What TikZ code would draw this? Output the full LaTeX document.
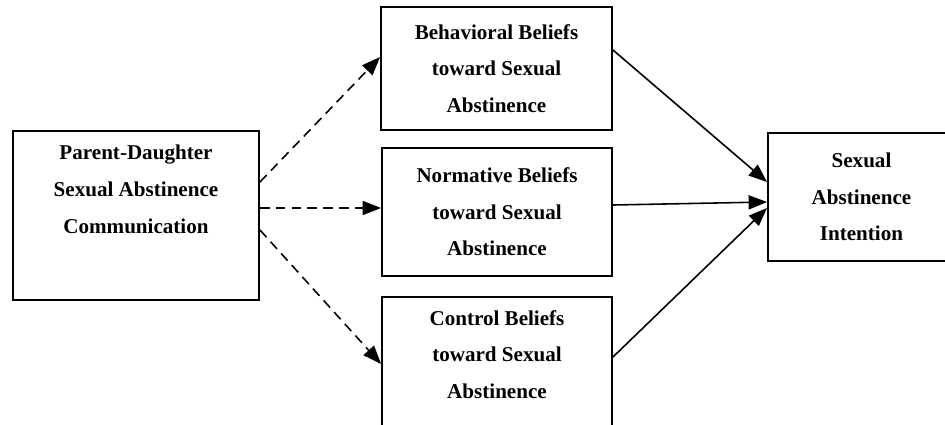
\documentclass[tikz,border=0pt]{standalone}
\usepackage{fontspec}
\setmainfont{Liberation Serif}
\usetikzlibrary{arrows.meta}
\tikzset{
  conbox/.style={
    rectangle, draw=black, line width=1.1pt, align=center,
    inner sep=0pt, font=\bfseries\fontsize{12}{20.8}\selectfont
  },
  pathdash/.style={-{Triangle[length=10.5pt,width=8pt]}, line width=0.9pt,
    dash pattern=on 5.5pt off 3.5pt},
  pathsolid/.style={-{Triangle[length=10.5pt,width=8pt]}, line width=0.9pt},
}
\begin{document}
\begin{tikzpicture}[x=0.02cm, y=-0.02cm]
  \clip (0,0) rectangle (945,425);
  \node[conbox, minimum width=4.92cm, minimum height=3.38cm, text depth=30pt] (pd) at (136,215.5) {Parent-Daughter\\Sexual Abstinence\\Communication};
  \node[conbox, minimum width=4.62cm, minimum height=2.46cm] (bb) at (496.5,68.5) {Behavioral Beliefs\\toward Sexual\\Abstinence};
  \node[conbox, minimum width=4.6cm, minimum height=2.56cm] (nb) at (497,212) {Normative Beliefs\\toward Sexual\\Abstinence};
  \node[conbox, minimum width=4.6cm, minimum height=2.9cm, text depth=17pt] (cb) at (497,369.5) {Control Beliefs\\toward Sexual\\Abstinence};
  \node[conbox, minimum width=3.74cm, minimum height=2.56cm] (ai) at (861.5,197) {Sexual\\Abstinence\\Intention};
  % dashed paths from communication
  \draw[pathdash] ([yshift=0.67cm]pd.east) -- ([yshift=0.23cm]bb.west);
  \path ([yshift=0.15cm]pd.east) coordinate (pdmid);
  \draw[pathdash] (pdmid) -- (pdmid -| nb.west);
  \draw[pathdash] ([yshift=-0.29cm]pd.east) -- ([yshift=0.11cm]cb.west);
  % beliefs to intention
  \draw[pathsolid] ([yshift=0.37cm]bb.east) -- ([yshift=0.3cm]ai.west);
  \draw[pathsolid] ([yshift=0.14cm]nb.east) -- ([yshift=-0.1cm]ai.west);
  \draw[pathsolid] ([yshift=0.25cm]cb.east) -- ([yshift=-0.22cm]ai.west);
\end{tikzpicture}
\end{document}
